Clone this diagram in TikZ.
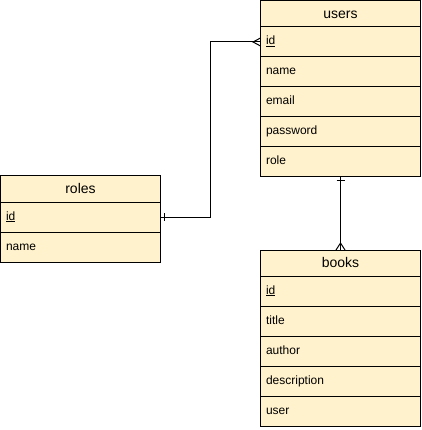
\documentclass[tikz,border=0pt]{standalone}
\usepackage{fontspec}
\setmainfont{Liberation Sans}
\usetikzlibrary{positioning}
\definecolor{entityfill}{HTML}{FFF2CC}
\tikzstyle{entity} = [rectangle, minimum width=160pt, minimum height=26pt, inner sep=0pt, outer sep=0pt, text centered, text height=10pt, text depth=1.5pt, draw=black, line width=1pt, fill=entityfill, font=\fontsize{14}{16}\selectfont]
\tikzstyle{field} = [rectangle, minimum height=30pt, text width=149pt, inner xsep=5.5pt, inner ysep=0pt, outer sep=0pt, align=left, text height=8pt, text depth=2pt, draw=black, line width=1pt, fill=entityfill, font=\fontsize{12}{14}\selectfont]
\tikzstyle{relation} = [line width=1pt, draw=black]

\begin{document}
\begin{tikzpicture}[x=1pt, y=-1pt]
        \useasboundingbox (0,0) rectangle (421,430);

        % users
        \node (users) [entity, anchor=north west] at (260.5,1) {users};
        \node (users-id) [field, below=0pt of users] {\underline{id}};
        \node (users-name) [field, below=0pt of users-id] {name};
        \node (users-email) [field, below=0pt of users-name] {email};
        \node (users-password) [field, below=0pt of users-email] {password};
        \node (users-role) [field, below=0pt of users-password] {role};

        % roles
        \node (roles) [entity, anchor=north west] at (0.5,176) {roles};
        \node (roles-id) [field, below=0pt of roles] {\underline{id}};
        \node (roles-name) [field, below=0pt of roles-id] {name};

        % books
        \node (books) [entity, anchor=north west] at (260.5,250) {books};
        \node (books-id) [field, below=0pt of books] {\underline{id}};
        \node (books-title) [field, below=0pt of books-id] {title};
        \node (books-author) [field, below=0pt of books-title] {author};
        \node (books-description) [field, below=0pt of books-author] {description};
        \node (books-user) [field, below=0pt of books-description] {user};

        % roles -> users
        \draw [relation] (roles-id.east) -- ++(50,0) |- (users-id.west);
        \draw [relation] ([xshift=4pt, yshift=4pt]roles-id.east) -- ([xshift=4pt, yshift=-4pt]roles-id.east);
        \draw [relation] ([yshift=4pt]users-id.west) -- ([xshift=-7.5pt]users-id.west) -- ([yshift=-4pt]users-id.west);

        % users -> books
        \draw [relation] (users-role.south) -- (books.north);
        \draw [relation] ([xshift=-4pt, yshift=-4pt]users-role.south) -- ([xshift=4pt, yshift=-4pt]users-role.south);
        \draw [relation] ([xshift=-4.5pt]books.north) -- ([yshift=7pt]books.north) -- ([xshift=4.5pt]books.north);
    \end{tikzpicture}
\end{document}
